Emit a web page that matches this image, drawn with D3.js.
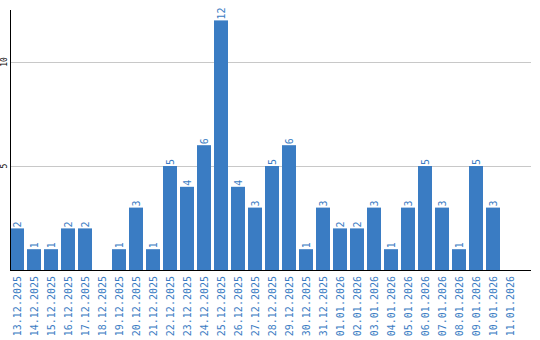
<!DOCTYPE html>
<html>
<head>
<meta charset="utf-8">
<script src="https://d3js.org/d3.v7.min.js"></script>
<style>
  body { margin: 0; background: #fff; }
  text { font-family: "DejaVu Sans Mono", monospace; }
</style>
</head>
<body>
<div id="chart"></div>
<script>
// data
var days = ["13.12.2025","14.12.2025","15.12.2025","16.12.2025","17.12.2025","18.12.2025",
  "19.12.2025","20.12.2025","21.12.2025","22.12.2025","23.12.2025","24.12.2025","25.12.2025",
  "26.12.2025","27.12.2025","28.12.2025","29.12.2025","30.12.2025","31.12.2025","01.01.2026",
  "02.01.2026","03.01.2026","04.01.2026","05.01.2026","06.01.2026","07.01.2026","08.01.2026",
  "09.01.2026","10.01.2026","11.01.2026"];
var counts = [2,1,1,2,2,0,1,3,1,5,4,6,12,4,3,5,6,1,3,2,2,3,1,3,5,3,1,5,3,0];
var yTicks = [5, 10];

var W = 540, H = 340;
var plotL = 10, plotR = 531, plotT = 10, plotB = 270;
var blue = "#3a7cc3";

var svg = d3.select("#chart").append("svg")
  .attr("width", W).attr("height", H);

var x = d3.scaleBand()
  .domain(days)
  .range([plotL, plotL + days.length * 17])
  .paddingInner(3 / 17)
  .paddingOuter(3 / 34)
  .align(0);

var y = d3.scaleLinear()
  .domain([0, 12.5])
  .range([plotB, plotT]);

// gridlines
svg.append("g").selectAll("line")
  .data(yTicks)
  .enter().append("line")
    .attr("x1", plotL).attr("x2", plotR)
    .attr("y1", function(d) { return Math.round(y(d)) + 0.5; })
    .attr("y2", function(d) { return Math.round(y(d)) + 0.5; })
    .attr("stroke", "#c8c8c8");

// y tick labels
svg.append("g").selectAll("text")
  .data(yTicks)
  .enter().append("text")
    .attr("transform", function(d) { return "translate(4," + y(d) + ") rotate(-90)"; })
    .attr("text-anchor", "middle")
    .attr("dy", "0.35em")
    .style("font-size", "8px")
    .attr("fill", "#000")
    .text(function(d) { return d; });

// bars
svg.append("g").selectAll("rect")
  .data(counts)
  .enter().append("rect")
    .attr("x", function(d, i) { return x(days[i]); })
    .attr("y", function(d) { return y(d); })
    .attr("width", x.bandwidth())
    .attr("height", function(d) { return y(0) - y(d); })
    .attr("fill", blue);

// value labels
svg.append("g").selectAll("text")
  .data(counts.map(function(d, i) { return {v: d, day: days[i]}; }).filter(function(d) { return d.v > 0; }))
  .enter().append("text")
    .attr("transform", function(d) {
      return "translate(" + (x(d.day) + x.bandwidth() / 2 + 0.5) + "," + (y(d.v) - 1) + ") rotate(-90)";
    })
    .attr("text-anchor", "start")
    .attr("dy", "0.35em")
    .style("font-size", "10px")
    .attr("fill", blue)
    .text(function(d) { return d.v; });

// axes lines
svg.append("line")
  .attr("x1", plotL + 0.5).attr("x2", plotL + 0.5)
  .attr("y1", plotT).attr("y2", plotB)
  .attr("stroke", "#000");
svg.append("line")
  .attr("x1", plotL).attr("x2", plotR)
  .attr("y1", plotB + 0.5).attr("y2", plotB + 0.5)
  .attr("stroke", "#000");

// x labels
svg.append("g").selectAll("text")
  .data(days)
  .enter().append("text")
    .attr("transform", function(d) {
      return "translate(" + (x(d) + x.bandwidth() / 2) + "," + (plotB + 6) + ") rotate(-90)";
    })
    .attr("text-anchor", "end")
    .attr("dy", "0.35em")
    .style("font-size", "10px")
    .attr("fill", blue)
    .text(function(d) { return d; });
</script>
</body>
</html>
